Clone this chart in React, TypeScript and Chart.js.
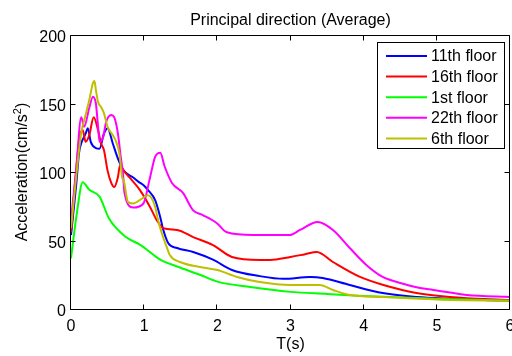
import React, { useEffect, useRef } from "react";
import { Chart, registerables } from "chart.js";

Chart.register(...registerables);

const chartTitle = "Principal direction (Average)";
const xTitle = "T(s)";
const yTitleMain = "Acceleration(cm/s";
const yTitleSup = "2";
const yTitleEnd = ")";

const xTicks = [0, 1, 2, 3, 4, 5, 6];
const yTicks = [0, 50, 100, 150, 200];

const seriesLabels = ["11th floor", "16th floor", "1st floor", "22th floor", "6th floor"];
const seriesColors = ["#0000ff", "#ff0000", "#00ff00", "#ff00ff", "#bfbf00"];

const floor11: [number, number][] = [
  [0, 54], [0.07, 90], [0.11, 114], [0.14, 121], [0.2, 128], [0.23, 132], [0.27, 122], [0.34, 117.5],
  [0.39, 117], [0.45, 128], [0.5, 132], [0.57, 121], [0.64, 110], [0.72, 101], [0.85, 96],
  [0.92, 93], [1.0, 90], [1.05, 87], [1.15, 79.5], [1.22, 67], [1.26, 58], [1.33, 48],
  [1.45, 44.5], [1.67, 41.6], [1.94, 36], [2.2, 28.5], [2.58, 24], [2.9, 22], [3.27, 23.4],
  [3.44, 22.6], [3.81, 17.5], [4.26, 11.7], [4.72, 8.8], [5.2, 7.5], [6, 6],
];

const floor16: [number, number][] = [
  [0, 56], [0.06, 95], [0.11, 123], [0.16, 130.6], [0.2, 122], [0.25, 127], [0.31, 140],
  [0.37, 130.6], [0.41, 121], [0.45, 116], [0.5, 101], [0.55, 92], [0.59, 89], [0.64, 96],
  [0.67, 105], [0.72, 101], [0.8, 96], [0.94, 87], [1.08, 74.5], [1.17, 65], [1.26, 59],
  [1.45, 57.7], [1.67, 52.5], [1.94, 46.7], [2.2, 38], [2.58, 35.8], [2.72, 35.8], [3.0, 38],
  [3.2, 40], [3.36, 41.6], [3.58, 34.3], [3.95, 23.4], [4.27, 17.5], [4.72, 11.7], [5.18, 8.8],
  [6, 6.5],
];

const floor1: [number, number][] = [
  [0, 37], [0.08, 70], [0.16, 92.5], [0.25, 87], [0.39, 82], [0.52, 66], [0.75, 52.5],
  [0.94, 47], [1.02, 44], [1.22, 36], [1.45, 31], [1.76, 25], [2.0, 20], [2.45, 16],
  [3.0, 12.5], [3.5, 11], [4.0, 9.5], [5, 7.5], [6, 6],
];

const floor22: [number, number][] = [
  [0, 65], [0.07, 101], [0.14, 140], [0.18, 133], [0.25, 147], [0.3, 155], [0.34, 150],
  [0.37, 133], [0.39, 122], [0.44, 125.5], [0.48, 136.5], [0.55, 141.6], [0.59, 140],
  [0.64, 128.5], [0.68, 111], [0.71, 99], [0.73, 85], [0.85, 74], [0.99, 77], [1.08, 96],
  [1.15, 111], [1.22, 114], [1.28, 104], [1.38, 92], [1.53, 84.7], [1.67, 72], [1.8, 68.6],
  [1.99, 62.8], [2.13, 56], [2.49, 54], [2.99, 54], [3.13, 57.7], [3.37, 63.5], [3.58, 57.7],
  [3.81, 44.5], [4.04, 32], [4.26, 23.4], [4.5, 19], [4.77, 15.3], [4.95, 13.9], [5.41, 10.2],
  [6, 8.8],
];

const floor6: [number, number][] = [
  [0, 59], [0.07, 96], [0.14, 128.5], [0.2, 141.6], [0.25, 152.5], [0.3, 165], [0.32, 166.4],
  [0.34, 160], [0.37, 151], [0.41, 147.4], [0.45, 143], [0.5, 133], [0.57, 127], [0.61, 123],
  [0.66, 114], [0.7, 96], [0.72, 94], [0.78, 78], [0.85, 77], [0.98, 81], [1.05, 83],
  [1.1, 81], [1.15, 74.5], [1.19, 65], [1.24, 55.5], [1.31, 45], [1.35, 39.4], [1.49, 34.3],
  [1.76, 30.7], [2.0, 28.5], [2.27, 23.4], [2.58, 19.7], [3.0, 17.5], [3.4, 17.5], [3.58, 13.9],
  [3.81, 10.2], [4.26, 8.8], [5, 7], [6, 6],
];

const seriesData = [floor11, floor16, floor1, floor22, floor6];

const FONT = "'Liberation Sans', Arial, sans-serif";

const matlabPlugin = {
  id: "matlabDecor",
  afterDraw(chart: any) {
    const { ctx, chartArea } = chart;
    const { left, right, top, bottom } = chartArea;
    const xs = chart.scales.x;
    const ys = chart.scales.y;
    ctx.save();
    ctx.strokeStyle = "#000";
    ctx.lineWidth = 1;
    const L = Math.round(left) - 0.5;
    const R = Math.round(right) - 0.5;
    const T = Math.round(top) + 0.5;
    const B = Math.round(bottom) + 0.5;
    ctx.beginPath();
    ctx.rect(L, T, R - L, B - T);
    const tl = 5;
    xTicks.forEach((v) => {
      const p = Math.round(xs.getPixelForValue(v)) - 0.5;
      ctx.moveTo(p, B);
      ctx.lineTo(p, B - tl);
      ctx.moveTo(p, T);
      ctx.lineTo(p, T + tl);
    });
    yTicks.forEach((v) => {
      const p = Math.round(ys.getPixelForValue(v)) + 0.5;
      ctx.moveTo(L, p);
      ctx.lineTo(L + tl, p);
      ctx.moveTo(R, p);
      ctx.lineTo(R - tl, p);
    });
    ctx.stroke();

    // title
    ctx.fillStyle = "#000";
    ctx.font = `16px ${FONT}`;
    ctx.textAlign = "center";
    ctx.textBaseline = "alphabetic";
    const cx = (left + right) / 2;
    ctx.fillText(chartTitle, cx, 25);
    ctx.fillText(xTitle, cx, 349);

    // y title with superscript
    ctx.save();
    const cy = (top + bottom) / 2;
    ctx.translate(27, cy);
    ctx.rotate(-Math.PI / 2);
    ctx.textAlign = "left";
    ctx.font = `16px ${FONT}`;
    const w1 = ctx.measureText(yTitleMain).width;
    const w3 = ctx.measureText(yTitleEnd).width;
    ctx.font = `11px ${FONT}`;
    const w2 = ctx.measureText(yTitleSup).width;
    const total = w1 + w2 + w3;
    let sx = -total / 2;
    ctx.font = `16px ${FONT}`;
    ctx.fillText(yTitleMain, sx, 0);
    sx += w1;
    ctx.font = `11px ${FONT}`;
    ctx.fillText(yTitleSup, sx, -6);
    sx += w2;
    ctx.font = `16px ${FONT}`;
    ctx.fillText(yTitleEnd, sx, 0);
    ctx.restore();

    // legend
    const bx = 377.5, by = 42.5, bw = 127, bh = 106;
    ctx.fillStyle = "#fff";
    ctx.fillRect(bx, by, bw, bh);
    ctx.strokeStyle = "#000";
    ctx.lineWidth = 1;
    ctx.strokeRect(bx, by, bw, bh);
    ctx.font = `16px ${FONT}`;
    ctx.textAlign = "left";
    ctx.textBaseline = "middle";
    chart.data.datasets.forEach((ds: any, i: number) => {
      const yy = 56 + i * 20.6;
      ctx.strokeStyle = ds.borderColor;
      ctx.lineWidth = 2;
      ctx.beginPath();
      ctx.moveTo(386, yy);
      ctx.lineTo(427, yy);
      ctx.stroke();
      ctx.fillStyle = "#000";
      ctx.fillText(ds.label, 431, yy + 1);
    });
    ctx.restore();
  },
};

export default function App() {
  const ref = useRef<HTMLCanvasElement | null>(null);
  useEffect(() => {
    document.body.style.margin = "0";
    if (!ref.current) return;
    const chart = new Chart(ref.current, {
      type: "line",
      data: {
        datasets: seriesData.map((pts, i) => ({
          label: seriesLabels[i],
          data: pts.map(([x, y]) => ({ x, y })),
          borderColor: seriesColors[i],
          backgroundColor: seriesColors[i],
          borderWidth: 2,
          pointRadius: 0,
          fill: false,
          cubicInterpolationMode: "monotone" as const,
          order: seriesData.length - i,
        })),
      },
      options: {
        animation: false,
        responsive: false,
        maintainAspectRatio: false,
        events: [],
        layout: { padding: { left: 0, right: 2, top: 35, bottom: 0 } },
        plugins: {
          legend: { display: false },
          title: { display: false },
          tooltip: { enabled: false },
        },
        scales: {
          x: {
            type: "linear",
            min: 0,
            max: 6,
            grid: { display: false, drawTicks: false },
            border: { display: false },
            ticks: {
              color: "#000",
              font: { family: FONT, size: 16 },
              padding: 8,
              maxRotation: 0,
              autoSkip: false,
            },
            afterBuildTicks: (scale: any) => {
              scale.ticks = xTicks.map((v) => ({ value: v }));
            },
            afterFit: (scale: any) => {
              scale.height = 47;
              scale.paddingLeft = 0;
              scale.paddingRight = 0;
            },
          },
          y: {
            type: "linear",
            min: 0,
            max: 200,
            grid: { display: false, drawTicks: false },
            border: { display: false },
            ticks: {
              color: "#000",
              font: { family: FONT, size: 16 },
              padding: 5,
              labelOffset: 3,
              autoSkip: false,
            },
            afterBuildTicks: (scale: any) => {
              scale.ticks = yTicks.map((v) => ({ value: v }));
            },
            afterFit: (scale: any) => {
              scale.width = 71;
              scale.paddingTop = 0;
              scale.paddingBottom = 0;
            },
          },
        },
      },
      plugins: [matlabPlugin],
    });
    return () => chart.destroy();
  }, []);
  return (
    <div style={{ width: 512, height: 356 }}>
      <canvas ref={ref} width={512} height={356} style={{ display: "block" }} />
    </div>
  );
}
